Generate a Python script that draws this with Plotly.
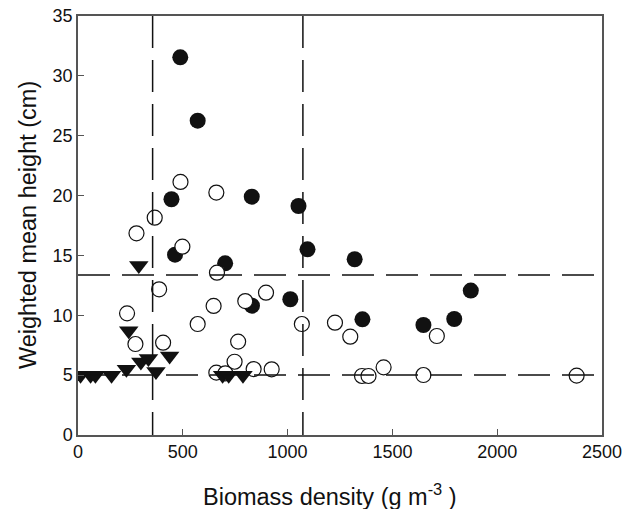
import plotly.graph_objects as go

# Filled circles
filled_x = [488, 571, 446, 829, 1052, 463, 702, 1095, 1013, 830, 1320, 1357, 1648, 1795, 1874]
filled_y = [31.55, 26.26, 19.69, 19.91, 19.13, 15.06, 14.34, 15.51, 11.34, 10.8, 14.68, 9.66, 9.19, 9.69, 12.06]

# Open circles
open_x = [489, 660, 366, 279, 498, 663, 387, 897, 798, 647, 234, 571, 1068, 1226, 1299,
          1712, 274, 406, 764, 747, 838, 924, 660, 703, 1355, 1386, 1458, 1648, 2379]
open_y = [21.14, 20.25, 18.15, 16.85, 15.73, 13.56, 12.17, 11.89, 11.19, 10.78, 10.16, 9.27, 9.27, 9.38, 8.21,
          8.27, 7.6, 7.71, 7.8, 6.12, 5.51, 5.49, 5.21, 5.15, 4.93, 4.93, 5.65, 5.01, 4.96]

# Triangles
tri_x = [12, 60, 83, 160, 231, 242, 290, 300, 336, 372, 437, 690, 719, 787]
tri_y = [5.0, 5.0, 5.0, 5.0, 5.5, 8.7, 14.15, 6.1, 6.4, 5.3, 6.6, 5.0, 5.0, 5.0]

# Reference lines
vlines_x = [356, 1073]
hlines_y = [13.37, 5.01]

x_ticks = [0, 500, 1000, 1500, 2000, 2500]
y_ticks = [0, 5, 10, 15, 20, 25, 30, 35]

x_title = "Biomass density (g m<sup>-3</sup> )"
y_title = "Weighted mean height (cm)"

FONT = "Liberation Sans"
INK = "#111111"

fig = go.Figure()
fig.add_trace(go.Scatter(x=filled_x, y=filled_y, mode="markers",
                         marker=dict(symbol="circle", size=16, color=INK,
                                     line=dict(width=0))))
fig.add_trace(go.Scatter(x=open_x, y=open_y, mode="markers",
                         marker=dict(symbol="circle", size=15, color="white",
                                     line=dict(width=1.2, color=INK))))
fig.add_trace(go.Scatter(x=tri_x, y=tri_y, mode="markers",
                         marker=dict(symbol="triangle-down", size=17, color=INK,
                                     line=dict(width=0))))
for vx in vlines_x:
    fig.add_trace(go.Scatter(x=[vx, vx], y=[35, 0], mode="lines",
                             line=dict(color=INK, width=1.5, dash="32px,12px"),
                             hoverinfo="skip"))
for hy in hlines_y:
    fig.add_trace(go.Scatter(x=[0, 2500], y=[hy, hy], mode="lines",
                             line=dict(color=INK, width=1.5, dash="32px,12px"),
                             hoverinfo="skip"))

axis_common = dict(showgrid=False, zeroline=False, showline=True, linecolor="#555555",
                   linewidth=1.5, mirror=True, ticks="inside", ticklen=6, tickwidth=1.2,
                   tickcolor="#555555", tickfont=dict(family=FONT, size=18, color=INK))

fig.update_xaxes(range=[0, 2500], tickvals=x_ticks, ticktext=[str(v) for v in x_ticks],
                 **axis_common)
fig.update_yaxes(range=[0, 35], tickvals=y_ticks, ticktext=[str(v) for v in y_ticks],
                 **axis_common)

fig.add_annotation(text=x_title, xref="paper", yref="paper", x=0.481, y=0,
                   yshift=-60, xanchor="center", yanchor="middle", showarrow=False,
                   font=dict(family=FONT, size=23.5, color=INK))
fig.add_annotation(text=y_title, xref="paper", yref="paper", x=0, y=0.5,
                   xshift=-50.5, xanchor="center", yanchor="middle", textangle=-90,
                   showarrow=False, font=dict(family=FONT, size=23.5, color=INK))

fig.update_layout(width=625, height=509, showlegend=False,
                  margin=dict(l=77.5, r=23, t=16, b=74, autoexpand=False),
                  plot_bgcolor="white", paper_bgcolor="white")

fig.write_html("out.html", config={"displayModeBar": False},
               post_script="document.body.style.margin='0';")
